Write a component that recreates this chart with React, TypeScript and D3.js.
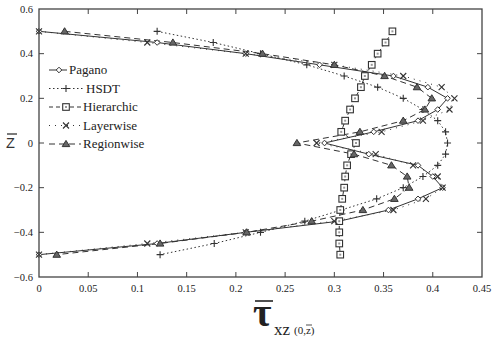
import * as d3 from 'd3';

// through-thickness positions (z bar) shared by all the curves
const zLevels = [0.5, 0.45, 0.4, 0.35, 0.3, 0.25, 0.2, 0.15, 0.1, 0.05, 0,
  -0.05, -0.1, -0.15, -0.2, -0.25, -0.3, -0.35, -0.4, -0.45, -0.5];

const pagano = [0, 0.12, 0.21, 0.285, 0.36, 0.395, 0.415, 0.405, 0.385, 0.34, 0.29,
  0.335, 0.385, 0.4, 0.41, 0.385, 0.355, 0.305, 0.21, 0.12, 0];
const hsdt = [0.12, 0.177, 0.225, 0.272, 0.31, 0.344, 0.37, 0.39, 0.405, 0.413, 0.415,
  0.413, 0.405, 0.39, 0.37, 0.343, 0.307, 0.27, 0.225, 0.178, 0.123];
const hierarchic = [0.359, 0.352, 0.344, 0.338, 0.331, 0.327, 0.321, 0.316, 0.311, 0.307, 0.322,
  0.317, 0.313, 0.311, 0.31, 0.308, 0.306, 0.305, 0.305, 0.305, 0.306];
const layerwise = [0, 0.11, 0.21, 0.3, 0.37, 0.409, 0.422, 0.417, 0.39, 0.348, 0.282,
  0.342, 0.38, 0.405, 0.41, 0.393, 0.36, 0.3, 0.21, 0.11, 0];
const regionwise = [0.026, 0.136, 0.227, 0.3, 0.351, 0.384, 0.399, 0.392, 0.37, 0.326, 0.262,
  0.32, 0.358, 0.374, 0.376, 0.361, 0.329, 0.277, 0.211, 0.123, 0.018];

const seriesNames = ['Pagano', 'HSDT', 'Hierarchic', 'Layerwise', 'Regionwise'];
const xTicks = [0, 0.05, 0.1, 0.15, 0.2, 0.25, 0.3, 0.35, 0.4, 0.45];
const yTicks = [0.6, 0.4, 0.2, 0, -0.2, -0.4, -0.6];

const width = 494;
const height = 343;
const ink = '#333';
const serif = '"Liberation Serif", "DejaVu Serif", serif';

const styles = {
  Pagano: { dash: null, marker: 'diamond', legendX: 69 },
  HSDT: { dash: '1.5,2.5', marker: 'plus', legendX: 86 },
  Hierarchic: { dash: '4,3', marker: 'square', legendX: 83 },
  Layerwise: { dash: '1,5', marker: 'cross', legendX: 83 },
  Regionwise: { dash: '6,4', marker: 'triangle', legendX: 83 },
};

function Marker({ type, x, y }) {
  if (type === 'diamond') {
    return <path d={`M${x},${y - 2.8}L${x + 2.8},${y}L${x},${y + 2.8}L${x - 2.8},${y}Z`}
      fill="white" stroke={ink} strokeWidth={1} />;
  }
  if (type === 'plus') {
    return <path d={`M${x - 3.5},${y}H${x + 3.5}M${x},${y - 3.5}V${y + 3.5}`}
      stroke={ink} strokeWidth={1.1} />;
  }
  if (type === 'square') {
    return <g>
      <rect x={x - 3.3} y={y - 3.3} width={6.6} height={6.6} fill="white" stroke={ink} strokeWidth={1.1} />
      <rect x={x - 1} y={y - 1} width={2} height={2} fill="#999" />
    </g>;
  }
  if (type === 'cross') {
    return <path d={`M${x - 3},${y - 3}L${x + 3},${y + 3}M${x - 3},${y + 3}L${x + 3},${y - 3}`}
      stroke={ink} strokeWidth={1.1} />;
  }
  return <path d={`M${x},${y - 3.6}L${x + 3.8},${y + 2.6}L${x - 3.8},${y + 2.6}Z`}
    fill="#666" stroke={ink} strokeWidth={1} />;
}

export default function App() {
  const x = d3.scaleLinear().domain([0, 0.45]).range([39, 482]);
  const y = d3.scaleLinear().domain([-0.6, 0.6]).range([277, 9]);

  const seriesValues = [pagano, hsdt, hierarchic, layerwise, regionwise];
  const series = seriesNames.map((name, i) => ({
    name,
    points: zLevels.map((z, j) => [seriesValues[i][j], z]),
  }));

  const line = d3.line().x(d => x(d[0])).y(d => y(d[1]));
  const fmt = v => String(v).replace('-', '\u2212');

  const legendY = d3.scalePoint().domain(seriesNames).range([70, 144]);

  return (
    <div style={{ position: 'fixed', left: 0, top: 0, background: 'white' }}>
      <svg width={width} height={height} style={{ display: 'block' }}>
        <rect width={width} height={height} fill="white" />

        {/* curves */}
        {series.map(s => (
          <path key={s.name} d={line(s.points)} fill="none" stroke={ink} strokeWidth={1}
            strokeDasharray={styles[s.name].dash || undefined} />
        ))}
        {series.map(s => (
          <g key={s.name + '-m'}>
            {s.points.map((p, j) => (
              <Marker key={j} type={styles[s.name].marker} x={x(p[0])} y={y(p[1])} />
            ))}
          </g>
        ))}

        {/* frame + inward ticks */}
        <rect x={x(0)} y={y(0.6)} width={x(0.45) - x(0)} height={y(-0.6) - y(0.6)}
          fill="none" stroke="#444" strokeWidth={1.3} />
        {xTicks.slice(1, -1).map(t => (
          <g key={'xt' + t} stroke="#444" strokeWidth={1}>
            <line x1={x(t)} x2={x(t)} y1={y(-0.6)} y2={y(-0.6) - 5} />
            <line x1={x(t)} x2={x(t)} y1={y(0.6)} y2={y(0.6) + 5} />
          </g>
        ))}
        {yTicks.slice(1, -1).map(t => (
          <g key={'yt' + t} stroke="#444" strokeWidth={1}>
            <line x1={x(0)} x2={x(0) + 5} y1={y(t)} y2={y(t)} />
            <line x1={x(0.45)} x2={x(0.45) - 5} y1={y(t)} y2={y(t)} />
          </g>
        ))}

        {/* tick labels */}
        {xTicks.map(t => (
          <text key={'xl' + t} x={x(t)} y={292} textAnchor="middle"
            fontFamily={serif} fontSize={10.5} fill="#222">{fmt(t)}</text>
        ))}
        {yTicks.map(t => (
          <text key={'yl' + t} x={33} y={y(t) + 3.5} textAnchor="end"
            fontFamily={serif} fontSize={10.5} fill="#222">{fmt(t)}</text>
        ))}

        {/* legend */}
        {seriesNames.map(name => {
          const ly = legendY(name);
          const st = styles[name];
          const x1 = 49;
          const x2 = st.legendX - 2;
          return (
            <g key={'lg' + name}>
              <line x1={x1} x2={x2} y1={ly} y2={ly} stroke={ink} strokeWidth={1}
                strokeDasharray={st.dash || undefined} />
              <Marker type={st.marker} x={name === 'Pagano' ? 59 : 66} y={ly} />
              <text x={st.legendX} y={ly + 4} fontFamily={serif} fontSize={13} fill="#222">{name}</text>
            </g>
          );
        })}

        {/* axis titles */}
        <line x1={7} x2={17} y1={134} y2={134} stroke="#333" strokeWidth={1.3} />
        <text x={6} y={148} fontFamily='"Liberation Sans", sans-serif' fontSize={14.5} fill="#333">Z</text>

        <line x1={255} x2={273} y1={301} y2={301} stroke="#222" strokeWidth={1.6} />
        <text x={253} y={326} fontFamily={serif} fontSize={40} fontWeight="bold" fill="#222">τ</text>
        <text x={274} y={335} fontFamily={serif} fontSize={17} fill="#222">xz</text>
        <text x={294} y={334} fontFamily={serif} fontSize={11} fill="#222">(0,z)</text>
        <line x1={306} x2={312} y1={325} y2={325} stroke="#222" strokeWidth={0.8} />
      </svg>
    </div>
  );
}
